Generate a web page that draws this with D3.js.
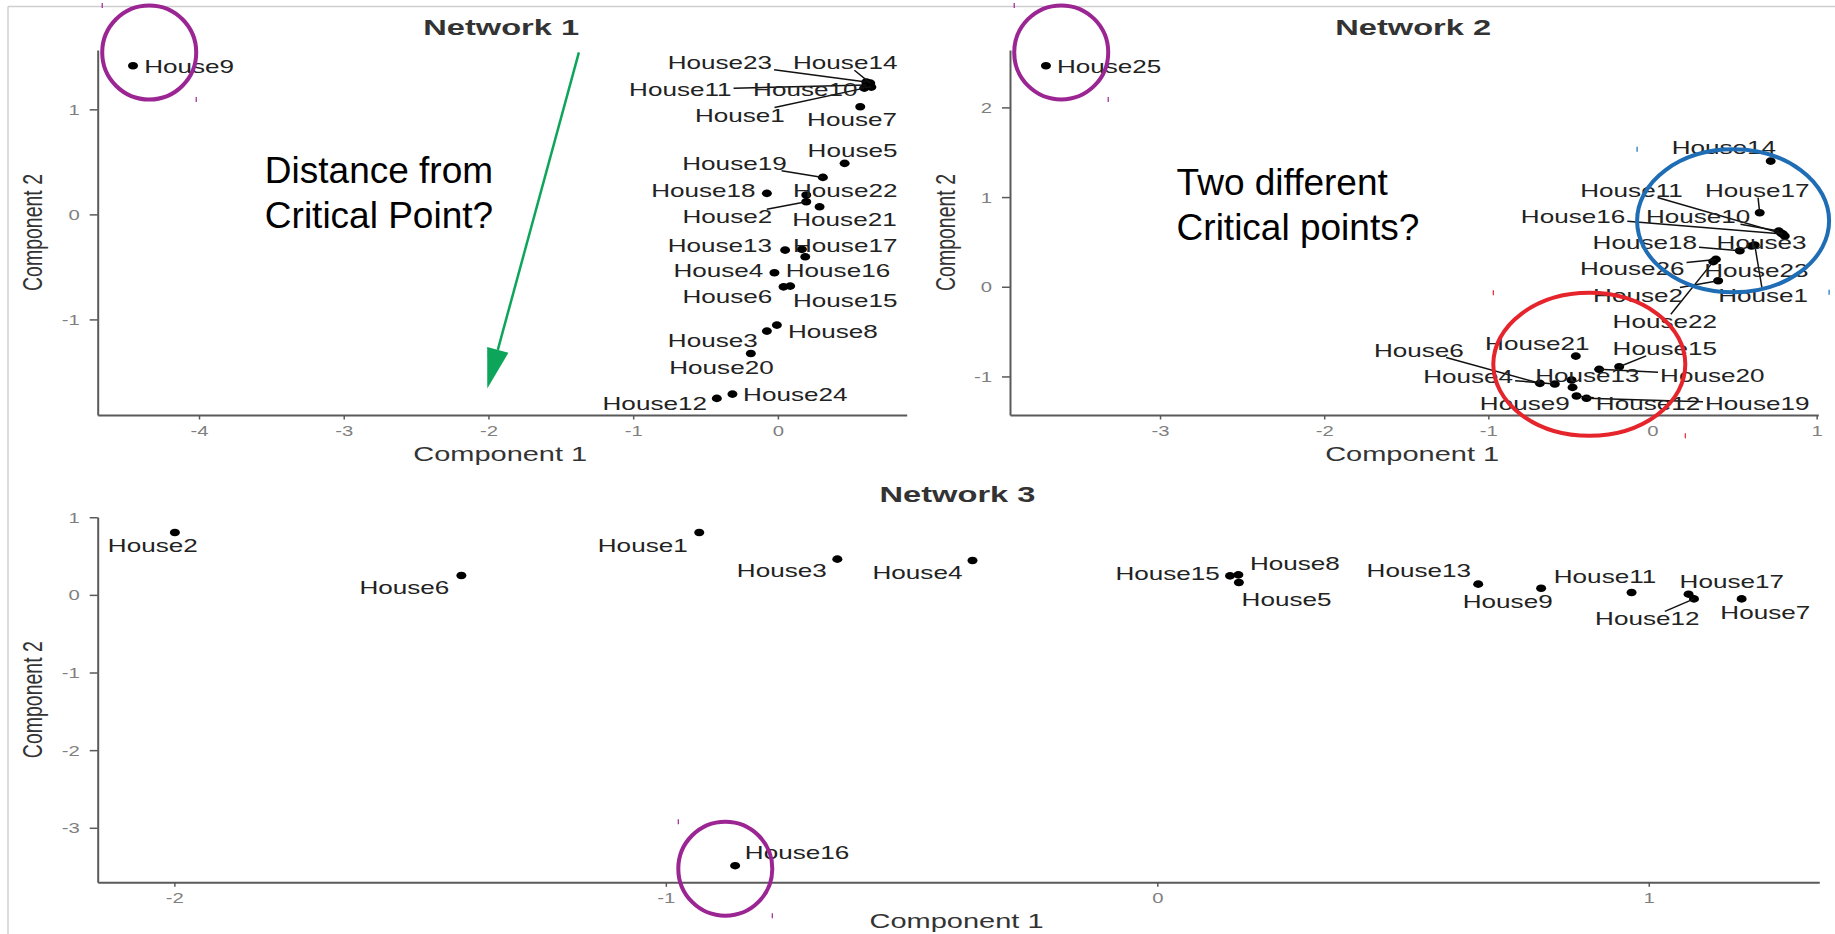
<!DOCTYPE html>
<html><head><meta charset="utf-8">
<script src="https://cdn.jsdelivr.net/npm/d3@7"></script>
<style>
body{margin:0;background:#fff;}
svg{display:block;}
text{font-family:"Liberation Sans",Arial,Helvetica,sans-serif;}
</style>
</head><body>
<svg id="chart" width="1835" height="934"></svg>
<script>
// ---------------- DATA ----------------
// Network 1
const net1Names  = ["House1","House2","House3","House4","House5","House6","House7","House8","House9","House10","House11","House12","House13","House14","House15","House16","House17","House18","House19","House20","House21","House22","House23","House24"];
const net1X      = [0.597,0.196,-0.076,-0.024,0.461,0.039,0.569,-0.007,-4.456,0.646,0.611,-0.422,0.050,0.638,0.085,0.189,0.166,-0.076,0.311,-0.187,0.288,0.196,0.611,-0.314];
const net1Y      = [1.202,0.120,-1.111,-0.556,0.486,-0.690,1.025,-1.054,1.415,1.212,1.231,-1.752,-0.340,1.250,-0.683,-0.404,-0.333,0.200,0.352,-1.324,0.072,0.184,1.260,-1.711];
const net1LabelX = [-0.263,-0.349,-0.450,-0.411,0.516,-0.349,0.512,0.380,-4.068,0.189,-0.674,-0.851,-0.401,0.465,0.465,0.415,0.465,-0.515,-0.300,-0.390,0.460,0.465,-0.401,0.120];
const net1LabelY = [0.946,-0.023,-1.204,-0.530,0.612,-0.778,0.905,-1.118,1.406,1.190,1.190,-1.800,-0.292,1.444,-0.816,-0.530,-0.292,0.231,0.486,-1.457,-0.048,0.231,1.444,-1.711];
const net1Leaders = ["House23","House14","House11","House10","House1","House19","House2"];
const net1XTicks = [-4,-3,-2,-1,0];
const net1YTicks = [-1,0,1];

// Network 2
const net2Names  = ["House1","House2","House3","House4","House6","House9","House10","House11","House12","House13","House14","House15","House16","House17","House18","House19","House20","House21","House22","House23","House25","House26"];
const net2X      = [0.623,0.400,0.806,-0.595,-0.686,-0.487,0.769,0.786,-0.463,-0.493,0.720,-0.203,0.794,0.653,0.532,-0.402,-0.325,-0.467,0.370,0.603,-3.695,0.386];
const net2Y      = [0.465,0.067,0.565,-1.085,-1.077,-1.122,0.621,0.595,-1.218,-1.040,1.401,-0.892,0.588,0.825,0.401,-1.244,-0.921,-0.773,0.280,0.454,2.464,0.305];
const net2LabelX = [0.674,-0.088,0.664,-1.123,-1.423,-0.778,0.278,-0.128,-0.027,-0.397,0.435,0.075,-0.484,0.638,-0.047,0.638,0.364,-0.702,0.075,0.633,-3.310,-0.123];
const net2LabelY = [-0.093,-0.093,0.491,-1.003,-0.706,-1.300,0.780,1.078,-1.300,-0.984,1.554,-0.687,0.780,1.078,0.491,-1.300,-0.984,-0.631,-0.390,0.186,2.453,0.205];
const net2Leaders = ["House11","House17","House16","House10","House18","House26","House2","House1","House22","House15","House6","House4","House20","House12","House19"];
const net2XTicks = [-3,-2,-1,0,1];
const net2YTicks = [-1,0,1,2];

// Network 3
const net3Names  = ["House1","House2","House3","House4","House5","House6","House7","House8","House9","House11","House12","House13","House15","House16","House17"];
const net3X      = [-0.932,-1.999,-0.651,-0.376,0.166,-1.416,1.189,0.165,0.781,0.965,1.092,0.653,0.148,-0.859,1.081];
const net3Y      = [0.803,0.803,0.460,0.442,0.159,0.249,-0.052,0.258,0.086,0.030,-0.052,0.138,0.245,-3.488,0.009];
const net3LabelX = [-1.047,-2.044,-0.764,-0.488,0.263,-1.532,1.237,0.280,0.713,0.911,0.997,0.532,0.021,-0.733,1.169];
const net3LabelY = [0.631,0.631,0.309,0.287,-0.055,0.099,-0.223,0.408,-0.086,0.236,-0.309,0.309,0.271,-3.321,0.171];
const net3Leaders = ["House12"];
const net3XTicks = [-2,-1,0,1];
const net3YTicks = [-3,-2,-1,0,1];

const titles = ["Network 1","Network 2","Network 3"];
const xTitle = "Component 1";
const yTitle = "Component 2";
const note1 = ["Distance from","Critical Point?"];
const note2 = ["Two different","Critical points?"];

// ---------------- LAYOUT ----------------
const SX = 1.45;        // horizontal stretch of the original figure
const svg = d3.select("#chart");

// frame
svg.append("line").attr("x1",8).attr("x2",1835).attr("y1",6.5).attr("y2",6.5).attr("stroke","#cfcfcf").attr("stroke-width",1.5);
svg.append("line").attr("x1",8).attr("x2",8).attr("y1",6.5).attr("y2",934).attr("stroke","#cfcfcf").attr("stroke-width",1.5);

const panels = [
  {title:titles[0], names:net1Names, xs:net1X, ys:net1Y, lxs:net1LabelX, lys:net1LabelY, leaders:net1Leaders,
   xTicks:net1XTicks, yTicks:net1YTicks, xDomain:[-4.70,0.89], yDomain:[-1.91,1.565], xRange:[97.7,906.7], yRange:[415,50]},
  {title:titles[1], names:net2Names, xs:net2X, ys:net2Y, lxs:net2LabelX, lys:net2LabelY, leaders:net2Leaders,
   xTicks:net2XTicks, yTicks:net2YTicks, xDomain:[-3.914,1.01], yDomain:[-1.43,2.64], xRange:[1010,1818.3], yRange:[415,50]},
  {title:titles[2], names:net3Names, xs:net3X, ys:net3Y, lxs:net3LabelX, lys:net3LabelY, leaders:net3Leaders,
   xTicks:net3XTicks, yTicks:net3YTicks, xDomain:[-2.156,1.347], yDomain:[-3.702,1.003], xRange:[97.7,1819.3], yRange:[882.3,517]}
];

const AXIS_COL = "#5a5a5a";

function clipToBox(px,py,cx,cy,hw,hh){
  const ax = Math.abs(px-cx), ay = Math.abs(py-cy);
  const tx = ax>hw ? 1-hw/ax : 0;
  const ty = ay>hh ? 1-hh/ay : 0;
  const t = Math.max(tx,ty);
  return [px+t*(cx-px), py+t*(cy-py)];
}

const scales = panels.map(cfg => {
  const g = svg.append("g");
  const x = d3.scaleLinear().domain(cfg.xDomain).range(cfg.xRange);
  const y = d3.scaleLinear().domain(cfg.yDomain).range(cfg.yRange);

  // x axis
  const gx = g.append("g").attr("transform",`translate(0,${cfg.yRange[0]})`)
    .call(d3.axisBottom(x).tickValues(cfg.xTicks).tickSize(4.5).tickSizeOuter(0).tickFormat(d=>String(d)));
  gx.select(".domain").attr("stroke",AXIS_COL).attr("stroke-width",2);
  gx.selectAll(".tick line").attr("stroke",AXIS_COL).attr("stroke-width",1.5);
  gx.selectAll(".tick text").attr("x",null).attr("y",null).attr("dy",null)
    .attr("transform",`translate(0,21) scale(${SX},1)`).attr("text-anchor","middle")
    .attr("font-size",14).attr("fill","#7f7f7f").attr("font-family",null);

  // y axis
  const gy = g.append("g").attr("transform",`translate(${cfg.xRange[0]},0)`)
    .call(d3.axisLeft(y).tickValues(cfg.yTicks).tickSize(8).tickSizeOuter(0).tickFormat(d=>String(d)));
  gy.select(".domain").attr("stroke",AXIS_COL).attr("stroke-width",2);
  gy.selectAll(".tick line").attr("stroke",AXIS_COL).attr("stroke-width",1.5);
  gy.selectAll(".tick text").attr("x",null).attr("y",null).attr("dy",null)
    .attr("transform",`translate(-18,5) scale(${SX},1)`).attr("text-anchor","end")
    .attr("font-size",14).attr("fill","#7f7f7f").attr("font-family",null);

  const cxMid = (cfg.xRange[0]+cfg.xRange[1])/2;
  const cyMid = (cfg.yRange[0]+cfg.yRange[1])/2;

  // title
  g.append("text").text(cfg.title)
    .attr("transform",`translate(${cxMid-1},${cfg.yRange[1]-15.5}) scale(${SX},1)`)
    .attr("text-anchor","middle").attr("font-size",22.5).attr("font-weight","bold").attr("fill","#333");
  // axis titles
  g.append("text").text(xTitle)
    .attr("transform",`translate(${cxMid-2},${cfg.yRange[0]+46}) scale(${SX},1)`)
    .attr("text-anchor","middle").attr("font-size",20).attr("fill","#333");
  g.append("text").text(yTitle)
    .attr("transform",`translate(${cfg.xRange[0]-55.5},${cyMid}) scale(${SX},1) rotate(-90)`)
    .attr("text-anchor","middle").attr("font-size",19.5).attr("fill","#333");

  const pts = cfg.names.map((n,i)=>({name:n, x:cfg.xs[i], y:cfg.ys[i], lx:cfg.lxs[i], ly:cfg.lys[i], leader:cfg.leaders.includes(n)}));

  // points
  g.append("g").selectAll("ellipse").data(pts).join("ellipse")
    .attr("cx",d=>x(d.x)).attr("cy",d=>y(d.y)).attr("rx",5).attr("ry",3.8).attr("fill","#000");

  const segG = g.append("g");
  const labG = g.append("g");
  const labels = labG.selectAll("text").data(pts).join("text")
    .text(d=>d.name)
    .attr("transform",d=>`translate(${x(d.lx)},${y(d.ly)+6.5}) scale(${SX},1)`)
    .attr("text-anchor","middle").attr("font-size",18).attr("fill","#222");

  labels.each(function(d){
    d.w = this.getComputedTextLength()*SX;
  });
  pts.filter(d=>d.leader).forEach(d=>{
    const px=x(d.x), py=y(d.y), cx=x(d.lx), cy=y(d.ly);
    const e = clipToBox(px,py,cx,cy,d.w/2+2,7.5);
    segG.append("line").attr("x1",px).attr("y1",py).attr("x2",e[0]).attr("y2",e[1])
      .attr("stroke","#111").attr("stroke-width",1.5);
  });
  return {x,y};
});

// ---------------- ANNOTATIONS ----------------
const ann = svg.append("g");
const s1 = scales[0], s2 = scales[1], s3 = scales[2];

function ellipseMark(cx,cy,rx,ry,col){
  ann.append("ellipse").attr("cx",cx).attr("cy",cy).attr("rx",rx).attr("ry",ry)
    .attr("fill","none").attr("stroke",col).attr("stroke-width",4);
  [[cx-rx,cy-ry],[cx+rx,cy+ry]].forEach(p=>{
    ann.append("line").attr("x1",p[0]).attr("x2",p[0]).attr("y1",p[1]-2.5).attr("y2",p[1]+2.5)
      .attr("stroke",col).attr("stroke-width",1.2);
  });
}
const PURPLE="#9b2592", RED="#e5242b", BLUE="#1f6db5", GREEN="#0ca55a";
ellipseMark(s1.x(-4.344), s1.y(1.541), 47, 47, PURPLE);
ellipseMark(s2.x(-3.602), s2.y(2.613), 47, 47, PURPLE);
ellipseMark(s3.x(-0.879), s3.y(-3.527), 47, 47, PURPLE);
ellipseMark(s2.x(-0.385), s2.y(-0.865), 96, 71.5, RED);
ellipseMark(s2.x(0.491), s2.y(0.735), 96, 71.5, BLUE);

// green arrow
(function(){
  const x1=s1.x(-1.375), y1=s1.y(1.543), x2=s1.x(-2.008), y2=s1.y(-1.657);
  const dx=x1-x2, dy=y1-y2, L=Math.hypot(dx,dy), ux=dx/L, uy=dy/L;
  const hl=40, hw=11;
  const bx=x2+ux*hl, by=y2+uy*hl;
  ann.append("line").attr("x1",x1).attr("y1",y1).attr("x2",bx).attr("y2",by)
    .attr("stroke",GREEN).attr("stroke-width",2.5);
  ann.append("polygon").attr("points",[[x2,y2],[bx-uy*hw,by+ux*hw],[bx+uy*hw,by-ux*hw]].map(p=>p.join(",")).join(" "))
    .attr("fill",GREEN);
})();

// notes
function note(lines,x,y){
  lines.forEach((t,i)=>{
    ann.append("text").text(t).attr("x",x).attr("y",y+i*45).attr("font-size",37).attr("fill","#000");
  });
}
note(note1, s1.x(-3.545), s1.y(0.295));
note(note2, s2.x(-2.899), s2.y(1.022));
</script>
</body></html>
